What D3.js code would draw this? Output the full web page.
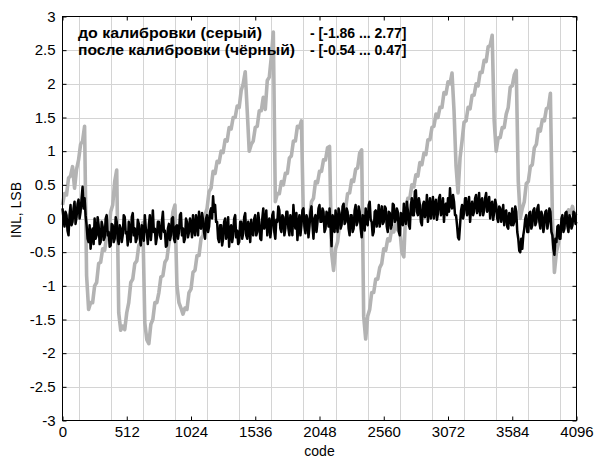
<!DOCTYPE html>
<html><head><meta charset="utf-8">
<script src="https://cdn.jsdelivr.net/npm/d3@7"></script>
<style>
body{margin:0;background:#fff}
svg{display:block}
text{font-family:Arial,"Liberation Sans",sans-serif}
</style>
</head><body>
<svg id="chart" width="594" height="459"></svg>
<script>
// ---- data ----
const codeMax = 4096;
const xTicks = [0, 512, 1024, 1536, 2048, 2560, 3072, 3584, 4096];
const yTicks = [-3, -2.5, -2, -1.5, -1, -0.5, 0, 0.5, 1, 1.5, 2, 2.5, 3];
const xGrid = [128, 384, 640, 896, 1152, 1408, 1664, 1920, 2176, 2432, 2688, 2944, 3200, 3456, 3712, 3968];
const yGrid = [-2.5, -2, -1.5, -1, -0.5, 0, 0.5, 1, 1.5, 2, 2.5];

// INL before calibration (grey), one sample every 16 codes
const grayINL = [
  0.2, 0.37, 0.35, 0.6, 0.63, 0.77, 0.45, 0.73, 0.87, 1.1, 1.15, 1.37, -0.85, -1.35, -1.25, -1.25,
  -1.0, -0.95, -0.67, -0.65, -0.45, -0.47, -0.27, -0.2, 0.1, 0.2, 0.55, 0.72, -1.4, -1.66, -1.6, -1.65,
  -1.4, -1.25, -0.95, -0.9, -0.67, -0.63, -0.4, -0.35, -0.06, -1.55, -1.8, -1.86, -1.57, -1.5, -1.25, -1.25,
  -1.1, -0.87, -0.85, -0.65, -0.6, -0.37, -0.2, 0.1, 0.2, -1.0, -1.25, -1.33, -1.42, -1.33, -1.35, -1.1,
  -1.05, -0.8, -0.77, -0.55, -0.55, -0.3, -0.25, 0.05, 0.15, 0.4, 0.45, 0.7, 0.67, 0.85, 0.83, 1.0,
  0.98, 1.17, 1.15, 1.35, 1.33, 1.5, 1.5, 1.67, 1.65, 1.9, 2.0, 2.18, 1.6, 1.0, 1.1, 1.15,
  1.35, 1.37, 1.6, 1.6, 1.8, 1.62, 2.05, 2.1, 2.4, 2.77, 0.25, 0.37, 0.37, 0.55, 0.5, 0.67,
  0.67, 0.9, 0.93, 1.15, 1.15, 1.37, 1.35, 1.45, -0.02, -0.17, -0.03, 0.0, 0.25, 0.3, 0.55, 0.53,
  0.7, 0.7, 0.87, 0.87, 1.05, 1.07, -0.5, -0.77, -0.45, -0.35, -0.1, -0.05, 0.15, 0.15, 0.37, 0.38,
  0.57, 0.55, 0.73, 0.75, 0.97, 1.02, -1.45, -1.79, -1.45, -1.35, -1.1, -1.1, -0.9, -0.9, -0.73, -0.67,
  -0.45, -0.47, -0.3, -0.33, -0.15, -0.2, -0.05, -0.17, -0.15, -0.5, -0.57, 0.15, 0.3, 0.3, 0.5, 0.47,
  0.65, 0.63, 0.83, 0.8, 0.97, 0.95, 1.17, 1.17, 1.35, 1.37, 1.55, 1.5, 1.65, 1.65, 1.87, 1.85,
  2.03, 2.0, 2.16, 1.6, 0.78, 0.38, 0.9, 1.15, 1.43, 1.45, 1.65, 1.63, 1.83, 1.83, 2.0, 1.97,
  2.17, 2.17, 2.35, 2.33, 2.55, 2.57, 2.72, 1.45, 1.0, 1.2, 1.2, 1.35, 1.35, 1.55, 1.65, 1.95,
  1.97, 2.13, 2.2, 0.55, 0.0, 0.15, 0.25, 0.52, 0.55, 0.77, 0.8, 1.05, 1.1, 1.33, 1.3, 1.47,
  1.45, 1.63, 1.65, 1.86, 0.0, -0.8, -0.5, -0.37, -0.15, -0.15, 0.0, -0.05, 0.13, 0.07, 0.18, 0.05,
  0.08
];

// INL after calibration (black), one sample every 8 codes
const blackINL = [
  0.15, 0.0, -0.12, 0.1, 0.05, -0.18, -0.25, 0.05, 0.2, -0.1, -0.05, 0.15, 0.25, -0.08, 0.02, 0.22,
  0.28, 0.0, 0.1, 0.3, 0.47, 0.15, 0.3, 0.05, -0.1, -0.3, -0.35, -0.1, -0.45, -0.2, -0.15, -0.38,
  0.0, -0.3, -0.25, 0.02, -0.1, -0.38, -0.35, -0.05, -0.12, -0.32, -0.28, 0.0, 0.05, -0.25, -0.2, -0.42,
  -0.4, -0.08, -0.1, -0.35, -0.3, 0.02, -0.05, -0.3, -0.38, -0.1, -0.15, -0.35, -0.25, 0.05, 0.02, -0.22,
  -0.2, -0.4, -0.05, -0.2, -0.35, 0.02, 0.08, -0.25, -0.15, -0.35, -0.3, -0.02, -0.08, -0.3, -0.4, -0.1,
  -0.12, -0.33, 0.05, -0.15, -0.22, -0.38, -0.1, 0.05, -0.32, -0.15, 0.12, -0.2, -0.15, -0.38, -0.28, -0.05,
  -0.05, -0.25, -0.3, -0.05, 0.1, -0.2, -0.18, -0.42, -0.4, -0.15, -0.08, -0.32, -0.25, 0.0, 0.02, -0.3,
  -0.35, -0.12, -0.1, -0.3, -0.2, 0.05, 0.08, -0.25, -0.15, -0.35, -0.3, 0.0, -0.05, -0.28, -0.2, 0.0,
  -0.1, -0.28, 0.05, -0.15, -0.25, 0.05, -0.05, -0.25, 0.1, -0.12, -0.15, 0.08, -0.02, -0.2, -0.3, 0.0,
  0.05, -0.2, -0.12, 0.1, 0.15, 0.0, 0.33, 0.1, 0.2, -0.05, -0.05, -0.3, -0.35, -0.1, -0.1, -0.4,
  -0.3, -0.05, 0.0, -0.3, -0.2, 0.02, -0.42, -0.15, -0.1, -0.35, -0.25, 0.0, 0.05, -0.28, -0.18, -0.38,
  -0.35, -0.05, -0.05, -0.3, -0.22, 0.02, 0.08, -0.25, -0.3, -0.05, -0.12, -0.35, -0.02, -0.2, -0.25, 0.0,
  0.05, -0.25, -0.2, 0.08, -0.05, -0.3, -0.32, 0.0, 0.15, -0.15, -0.1, 0.12, -0.25, -0.05, 0.0, -0.28,
  -0.15, 0.05, 0.1, -0.2, -0.3, -0.02, -0.05, 0.18, 0.12, -0.15, -0.2, 0.05, 0.02, -0.25, -0.15, 0.1,
  0.1, -0.15, -0.25, 0.05, -0.05, -0.25, 0.2, -0.02, -0.15, 0.08, -0.32, -0.1, 0.05, -0.25, -0.1, 0.12,
  0.15, -0.12, -0.22, 0.05, 0.0, -0.28, -0.12, 0.1, 0.18, -0.1, -0.3, 0.0, 0.05, -0.2, -0.05, 0.15,
  0.2, -0.05, -0.05, 0.15, 0.1, -0.2, -0.15, 0.1, 0.05, -0.12, 0.15, -0.1, -0.41, 0.05, 0.0, -0.2,
  0.12, -0.05, -0.2, 0.15, 0.08, -0.15, -0.1, 0.18, 0.22, -0.08, -0.05, 0.15, 0.1, -0.15, -0.25, 0.05,
  0.05, -0.2, -0.15, 0.12, 0.2, -0.1, -0.05, 0.18, 0.1, -0.15, -0.28, 0.05, 0.02, -0.18, 0.15, -0.05,
  -0.1, 0.2, 0.25, -0.02, -0.05, -0.25, -0.2, 0.1, 0.12, -0.12, 0.0, 0.2, -0.12, 0.05, 0.18, -0.08,
  -0.05, 0.18, 0.15, -0.12, -0.2, 0.1, 0.08, -0.15, -0.1, 0.22, 0.2, -0.05, -0.02, 0.15, 0.1, -0.2,
  -0.25, 0.08, 0.05, -0.1, 0.22, 0.0, -0.08, 0.25, 0.12, -0.1, -0.15, 0.2, 0.3, 0.05, 0.05, 0.4,
  0.42, 0.1, 0.05, 0.3, 0.2, -0.05, -0.1, 0.2, 0.25, 0.02, 0.1, 0.35, -0.05, 0.15, 0.3, 0.0,
  0.15, 0.32, 0.0, 0.2, 0.28, -0.02, 0.08, 0.3, 0.35, 0.05, 0.12, 0.3, -0.05, 0.2, 0.22, 0.05,
  0.3, 0.1, 0.45, 0.2, 0.15, 0.35, 0.25, 0.05, 0.05, -0.1, -0.28, -0.31, -0.1, 0.12, 0.2, 0.0,
  0.08, 0.3, 0.3, 0.05, 0.12, 0.32, -0.05, 0.15, 0.25, 0.05, 0.1, 0.3, 0.35, 0.08, 0.15, 0.38,
  0.05, 0.25, 0.3, 0.05, 0.12, 0.3, 0.38, 0.1, 0.15, 0.32, 0.0, 0.2, 0.25, -0.02, 0.1, 0.28,
  0.2, 0.0, -0.05, 0.18, 0.15, -0.05, 0.05, 0.2, -0.1, 0.1, 0.12, -0.12, -0.15, 0.08, 0.05, -0.1,
  0.15, -0.1, -0.05, 0.18, 0.1, -0.2, -0.3, -0.48, -0.5, -0.3, -0.45, -0.25, -0.15, 0.0, 0.05, -0.2,
  -0.2, 0.08, 0.1, -0.15, -0.1, 0.12, 0.15, -0.1, -0.05, 0.15, 0.2, -0.05, -0.15, 0.1, 0.05, -0.2,
  -0.1, 0.1, 0.12, -0.15, -0.05, 0.15, 0.1, -0.2, -0.25, -0.45, -0.54, -0.3, -0.35, -0.12, -0.1, -0.3,
  -0.3, 0.0, 0.05, -0.2, -0.15, 0.08, 0.1, -0.12, -0.2, 0.05, 0.0, -0.15, -0.1, 0.1, 0.08, -0.08,
  -0.05
];

const legendLabels = ["до калибровки (серый)", "после калибровки (чёрный)"];
const legendRanges = ["- [-1.86 ... 2.77]", "- [-0.54 ... 0.47]"];
const xLabel = "code";
const yLabel = "INL, LSB";

// ---- drawing ----
const svg = d3.select("#chart");
const L = 62.5, R = 576.5, T = 16.5, B = 420.5;
const x = d3.scaleLinear().domain([0, codeMax]).range([L, R]);
const y = d3.scaleLinear().domain([-3, 3]).range([B, T]);

svg.append("rect").attr("width", 594).attr("height", 459).attr("fill", "#fff");

// grid
const grid = svg.append("g").attr("stroke", "#d4d4d4").attr("stroke-width", 1);
grid.selectAll("line.v").data(xGrid).join("line")
  .attr("x1", d => Math.round(x(d)) + 0.5).attr("x2", d => Math.round(x(d)) + 0.5)
  .attr("y1", T).attr("y2", B);
grid.selectAll("line.h").data(yGrid).join("line")
  .attr("y1", d => Math.round(y(d)) + 0.5).attr("y2", d => Math.round(y(d)) + 0.5)
  .attr("x1", L).attr("x2", R);

// series
function seriesLine(arr) {
  const step = codeMax / (arr.length - 1);
  return d3.line().x((d, i) => x(i * step)).y(d => y(d))(arr);
}
svg.append("path").attr("d", seriesLine(grayINL))
  .attr("fill", "none").attr("stroke", "#b3b3b3").attr("stroke-width", 3.6).attr("stroke-linejoin", "round");
svg.append("path").attr("d", seriesLine(blackINL))
  .attr("fill", "none").attr("stroke", "#000").attr("stroke-width", 2.5).attr("stroke-linejoin", "round");

// axes
const fmt = d => String(d);
function styleAxis(g) {
  g.select(".domain").remove();
  g.selectAll(".tick line").attr("stroke", "#000");
  g.selectAll(".tick text").attr("fill", "#000").attr("font-size", 15)
    .attr("font-family", 'Arial,"Liberation Sans",sans-serif');
}
svg.append("g").attr("transform", `translate(0,${B})`)
  .call(d3.axisBottom(x).tickValues(xTicks).tickFormat(fmt).tickSizeInner(-4).tickSizeOuter(0).tickPadding(6))
  .call(styleAxis);
svg.append("g").attr("transform", `translate(0,${T})`)
  .call(d3.axisTop(x).tickValues(xTicks).tickFormat("").tickSizeInner(-4).tickSizeOuter(0))
  .call(styleAxis);
svg.append("g").attr("transform", `translate(${L},0)`)
  .call(d3.axisLeft(y).tickValues(yTicks).tickFormat(fmt).tickSizeInner(-4).tickSizeOuter(0).tickPadding(7))
  .call(styleAxis);
svg.append("g").attr("transform", `translate(${R},0)`)
  .call(d3.axisRight(y).tickValues(yTicks).tickFormat("").tickSizeInner(-4).tickSizeOuter(0))
  .call(styleAxis);

// box
svg.append("rect").attr("x", L).attr("y", T).attr("width", R - L).attr("height", B - T)
  .attr("fill", "none").attr("stroke", "#000").attr("stroke-width", 1);

// legend text
const legendWidths = [184, 217];
const lg = svg.append("g").attr("font-weight", "bold").attr("font-size", 14).attr("fill", "#000");
legendLabels.forEach((t, i) => {
  lg.append("text").attr("x", 78).attr("y", 38 + i * 17)
    .attr("textLength", legendWidths[i]).attr("lengthAdjust", "spacingAndGlyphs").text(t);
  lg.append("text").attr("x", 310).attr("y", 38 + i * 17).text(legendRanges[i]);
});

// axis labels
svg.append("text").attr("x", x(2048)).attr("y", 456).attr("text-anchor", "middle")
  .attr("font-size", 14).text(xLabel);
svg.append("text").attr("transform", "translate(21,210) rotate(-90)").attr("text-anchor", "middle")
  .attr("font-size", 14).text(yLabel);
</script>
</body></html>
